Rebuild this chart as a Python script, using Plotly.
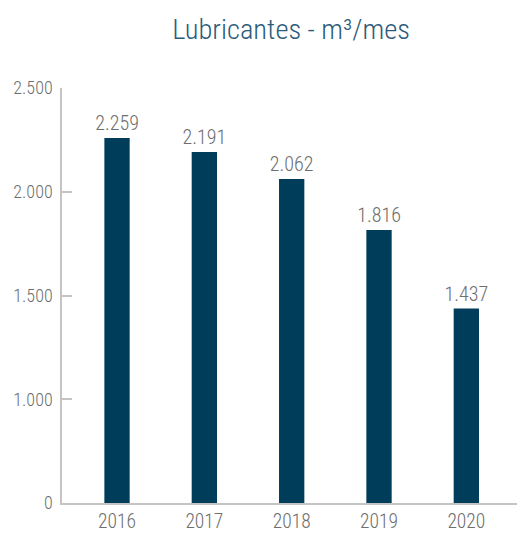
import plotly.graph_objects as go

# Lubricant volume per year (m³/month)
years = ["2016", "2017", "2018", "2019", "2020"]
volumes = [2259, 2191, 2062, 1816, 1437]
value_labels = ["2.259", "2.191", "2.062", "1.816", "1.437"]

y_tick_vals = [500, 1000, 1500, 2000, 2500]
y_tick_text = ["0", "1.000", "1.500", "2.000", "2.500"]

BAR = "#003d5b"
GREY_TEXT = "#6e6e6e"
AXIS = "#c4c4c4"
FONT = "Roboto Condensed, Liberation Sans Narrow, Roboto, sans-serif"

fig = go.Figure(
    go.Bar(
        x=years,
        y=volumes,
        width=0.29,
        marker=dict(color=BAR, line=dict(width=0)),
        text=value_labels,
        textposition="outside",
        textangle=0,
        constraintext="none",
        textfont=dict(family=FONT, size=20, color=GREY_TEXT, weight=300),
        cliponaxis=False,
        hoverinfo="skip",
    )
)

fig.update_layout(
    width=517,
    height=537,
    margin=dict(l=62, r=0, t=88, b=34),
    paper_bgcolor="white",
    plot_bgcolor="white",
    showlegend=False,
    title=dict(
        text="Lubricantes - m³/mes",
        x=0.563,
        xanchor="center",
        y=0.946,
        yanchor="middle",
        font=dict(family=FONT, size=28.5, color="#2b5b7a", weight=300),
    ),
    xaxis=dict(
        type="category",
        range=[-0.63, 4.58],
        showline=True,
        linecolor=AXIS,
        linewidth=1.5,
        ticks="",
        showgrid=False,
        tickfont=dict(family=FONT, size=19.5, color=GREY_TEXT, weight=300),
        fixedrange=True,
    ),
    yaxis=dict(
        range=[500, 2500],
        tickvals=y_tick_vals,
        ticktext=y_tick_text,
        showline=True,
        linecolor=AXIS,
        linewidth=1.5,
        ticks="inside",
        ticklen=10,
        tickcolor=AXIS,
        tickwidth=1.5,
        showgrid=False,
        zeroline=False,
        tickfont=dict(family=FONT, size=18, color=GREY_TEXT, weight=300),
        ticklabelstandoff=4,
        fixedrange=True,
    ),
    bargap=0.7,
)

fig.write_html("out.html")
